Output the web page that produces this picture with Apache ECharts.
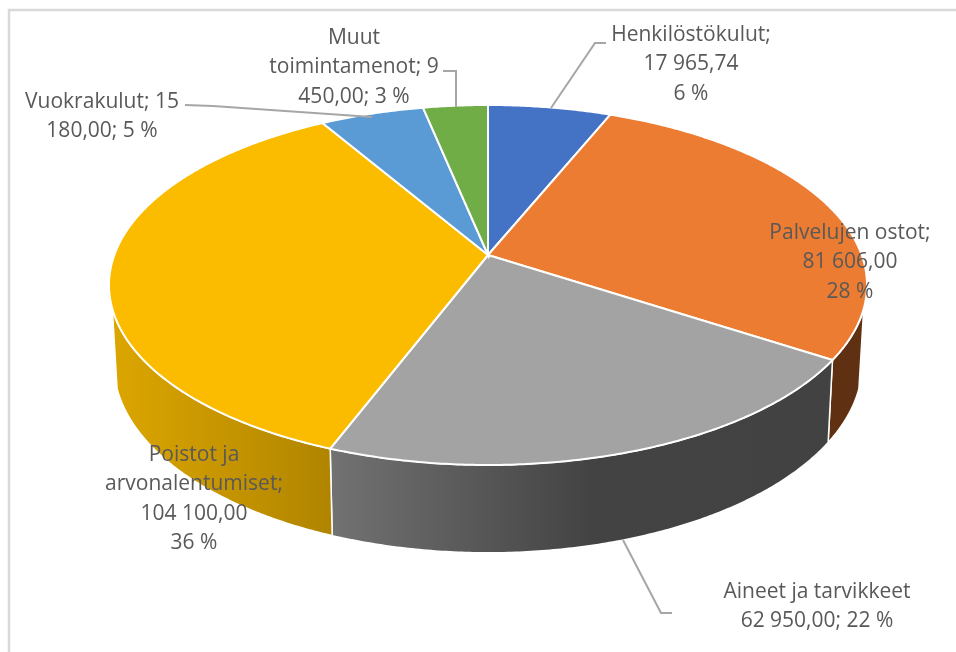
<!DOCTYPE html>
<html>
<head>
<meta charset="utf-8">
<title>Kulut</title>
<script src="https://cdn.jsdelivr.net/npm/echarts@6/dist/echarts.min.js"></script>
<style>
  html, body { margin: 0; padding: 0; background: #fff; }
  #chart { width: 956px; height: 652px; }
</style>
</head>
<body>
<div id="chart"></div>
<script>
const categories = ['Henkilöstökulut', 'Palvelujen ostot', 'Aineet ja tarvikkeet', 'Poistot ja arvonalentumiset', 'Vuokrakulut', 'Muut toimintamenot']
const values = [17965.74, 81606, 62950, 104100, 15180, 9450]
const labelLines = [
  ['Henkilöstökulut;', '17 965,74', '6 %'],
  ['Palvelujen ostot;', '81 606,00', '28 %'],
  ['Aineet ja tarvikkeet', '62 950,00; 22 %'],
  ['Poistot ja', 'arvonalentumiset;', '104 100,00', '36 %'],
  ['Vuokrakulut; 15', '180,00; 5 %'],
  ['Muut', 'toimintamenot; 9', '450,00; 3 %']
]
const topColors = ['#4472c4', '#eb7c31', '#a3a3a3', '#fbbc00', '#5b9bd5', '#70ad47']

// label centre (x, first line y) and leader line for each slice
const labelAnchors = [[691, 35], [850, 233], [817, 592], [194, 455], [102, 102], [354, 38]]
const leaderLines = [
  [[551, 108], [595, 43], [606, 43]],
  null,
  [[623, 540], [661, 613], [672, 613]],
  null,
  [[185, 105], [213, 106], [372, 117]],
  [[443, 71], [456, 71], [456, 107]]
]

const total = values.reduce((a, b) => a + b, 0)
const startAngles = []
values.reduce((sum, v, i) => {
  startAngles[i] = sum / total * 360
  return sum + v
}, 0)

// perspective disc: top face and bottom face of the pie
const topRing = { cx: 488, cy: 255, rx: 373.7, ry: 175, k: 1 / 6 }
const bottomRing = { cx: 488, cy: 332, rx: 369, ry: 184, k: 1 / 6 }
const wallFrom = 107
const wallTo = 253

const project = (ring, deg) => {
  const a = deg * Math.PI / 180
  const X = Math.sin(a)
  const Y = Math.cos(a)
  const w = 1 + ring.k * Y
  return [ring.cx + ring.rx * X / w, ring.cy - ring.ry * Y / w]
}

const arc = (ring, from, to) => {
  const pts = []
  const steps = Math.max(2, Math.ceil((to - from) * 2))
  for (let i = 0; i <= steps; i++) {
    pts.push(project(ring, from + (to - from) * i / steps))
  }
  return pts
}

const wallFills = [
  null,
  '#5f3011',
  new echarts.graphic.LinearGradient(0, 0, 1, 0, [
    { offset: 0, color: '#727272' },
    { offset: 0.52, color: '#434343' },
    { offset: 1, color: '#424242' }
  ]),
  new echarts.graphic.LinearGradient(0, 0, 1, 0, [
    { offset: 0, color: '#dca600' },
    { offset: 1, color: '#b08400' }
  ]),
  null,
  null
]

const angleRange = i => [startAngles[i], i + 1 < values.length ? startAngles[i + 1] : 360]

const chart = echarts.init(document.getElementById('chart'), null, { renderer: 'canvas' })

const option = {
  animation: false,
  backgroundColor: '#ffffff',
  graphic: [{
    type: 'polyline',
    silent: true,
    shape: { points: [[9, 652], [9, 10], [956, 10]] },
    style: { stroke: '#d9d9d9', lineWidth: 2.5, fill: null }
  }],
  series: [
    {
      name: 'sivut',
      type: 'custom',
      coordinateSystem: 'none',
      z: 1,
      data: values,
      silent: true,
      renderItem: params => {
        const [a0, a1] = angleRange(params.dataIndex)
        const from = Math.max(a0, wallFrom)
        const to = Math.min(a1, wallTo)
        if (to <= from) return null
        return {
          type: 'polygon',
          shape: { points: arc(topRing, from, to).concat(arc(bottomRing, from, to).reverse()) },
          style: { fill: wallFills[params.dataIndex], stroke: '#ffffff', lineWidth: 1.5 }
        }
      }
    },
    {
      name: 'kulut',
      type: 'custom',
      coordinateSystem: 'none',
      z: 2,
      data: values,
      silent: true,
      renderItem: params => {
        const [a0, a1] = angleRange(params.dataIndex)
        return {
          type: 'polygon',
          shape: { points: [[topRing.cx, topRing.cy]].concat(arc(topRing, a0, a1)) },
          style: { fill: topColors[params.dataIndex], stroke: '#ffffff', lineWidth: 2 }
        }
      }
    },
    {
      name: 'selitteet',
      type: 'custom',
      coordinateSystem: 'none',
      z: 3,
      data: categories,
      silent: true,
      renderItem: params => {
        const i = params.dataIndex
        const [x, y] = labelAnchors[i]
        const children = labelLines[i].map((line, n) => ({
          type: 'text',
          style: {
            text: line,
            x: x,
            y: y + n * 29.4,
            align: 'center',
            verticalAlign: 'middle',
            fill: '#595959',
            font: '21px "Open Sans"'
          }
        }))
        if (leaderLines[i]) {
          children.push({
            type: 'polyline',
            shape: { points: leaderLines[i] },
            style: { stroke: '#a6a6a6', lineWidth: 2, fill: null }
          })
        }
        return { type: 'group', children }
      }
    }
  ]
}

chart.setOption(option)
window.addEventListener('resize', () => chart.resize())
</script>
</body>
</html>
